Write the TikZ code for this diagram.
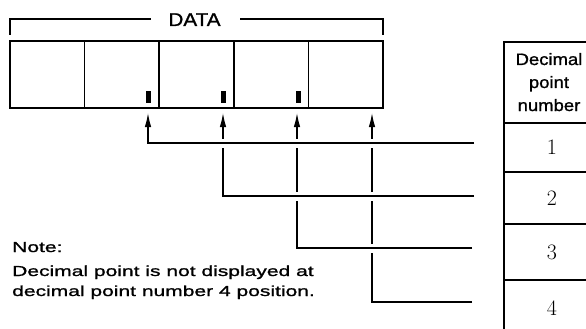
\documentclass[tikz,border=0pt]{standalone}
\usepackage{fontspec}
\newfontfamily\wsans[FakeStretch=1.45,FakeBold=1.2]{Liberation Sans}
\newfontfamily\dsans[FakeStretch=1.12,FakeBold=1.2]{Liberation Sans}
\usetikzlibrary{arrows.meta}
\tikzset{
  cell/.style={draw, line width=1.5pt, minimum width=74.6pt, minimum height=67pt, inner sep=0pt, outer sep=0pt},
  row/.style={draw, line width=1.3pt, minimum width=96pt, inner sep=0pt, outer sep=0pt, font=\fontsize{22}{23}\selectfont},
  conn/.style={line width=1.2pt, -{Latex[length=14pt,width=6.5pt]}},
  gap/.style={draw=white, line width=9pt},
  bracket/.style={line width=1.2pt},
  dpbar/.style={fill=black},
  notetext/.style={anchor=base west, inner sep=0pt, font=\wsans\fontsize{14.5}{16}\selectfont},
  hdrtext/.style={anchor=base, inner sep=0pt, font=\dsans\fontsize{16.5}{18}\selectfont},
}
\begin{document}
\begin{tikzpicture}[x=1pt,y=-1pt]
\useasboundingbox (0,0) rectangle (586,329);
% display cells
\foreach \i in {0,...,4}
  \node[cell] (c\i) at ({47.3+74.6*\i},74.5) {};
% decimal point bars
\fill[dpbar] (146,91) rectangle (150.5,103);
\fill[dpbar] (221,91) rectangle (225.5,103);
\fill[dpbar] (296,91) rectangle (300.5,103);
% DATA label and bracket
\node[anchor=base, inner sep=0pt, font=\dsans\fontsize{18.5}{20}\selectfont] (data) at (194.5,26) {DATA};
\coordinate (bl) at (10,35);
\coordinate (br) at (383,35);
\coordinate (dl) at (151,19);
\coordinate (dr) at (240,19);
\draw[bracket] (bl) |- (dl);
\draw[bracket] (dr) -| (br);
% table
\node[row] (t0) at (552,82.5) [minimum height=81pt] {};
\node[row] (t1) at (552,147.5) [minimum height=49pt] {1};
\node[row] (t2) at (552,198) [minimum height=52pt] {2};
\node[row] (t3) at (552,252) [minimum height=56pt] {3};
\node[row] (t4) at (552,308) [minimum height=56pt] {4};
\node[hdrtext] (h1) at (549,65) {Decimal};
\node[hdrtext] (h2) at (549,88) {point};
\node[hdrtext] (h3) at (549,111) {number};
% connectors
\coordinate (a1) at (148,113);
\coordinate (a2) at (223,113);
\coordinate (a3) at (297,113);
\coordinate (a4) at (372,113);
\coordinate (e1) at (474,143);
\coordinate (e2) at (474,196);
\coordinate (e3) at (472,248);
\coordinate (e4) at (472,302);
\draw[gap] (e4) -| (a4);
\draw[conn] (e4) -| (a4);
\draw[gap] (e3) -| (a3);
\draw[conn] (e3) -| (a3);
\draw[gap] (e2) -| (a2);
\draw[conn] (e2) -| (a2);
\draw[gap] (e1) -| (a1);
\draw[conn] (e1) -| (a1);
% note
\node[notetext] (n1) at (12,252) {Note:};
\node[notetext] (n2) at (12,276) {Decimal point is not displayed at};
\node[notetext] (n3) at (12,296) {decimal point number 4 position.};
\end{tikzpicture}
\end{document}
